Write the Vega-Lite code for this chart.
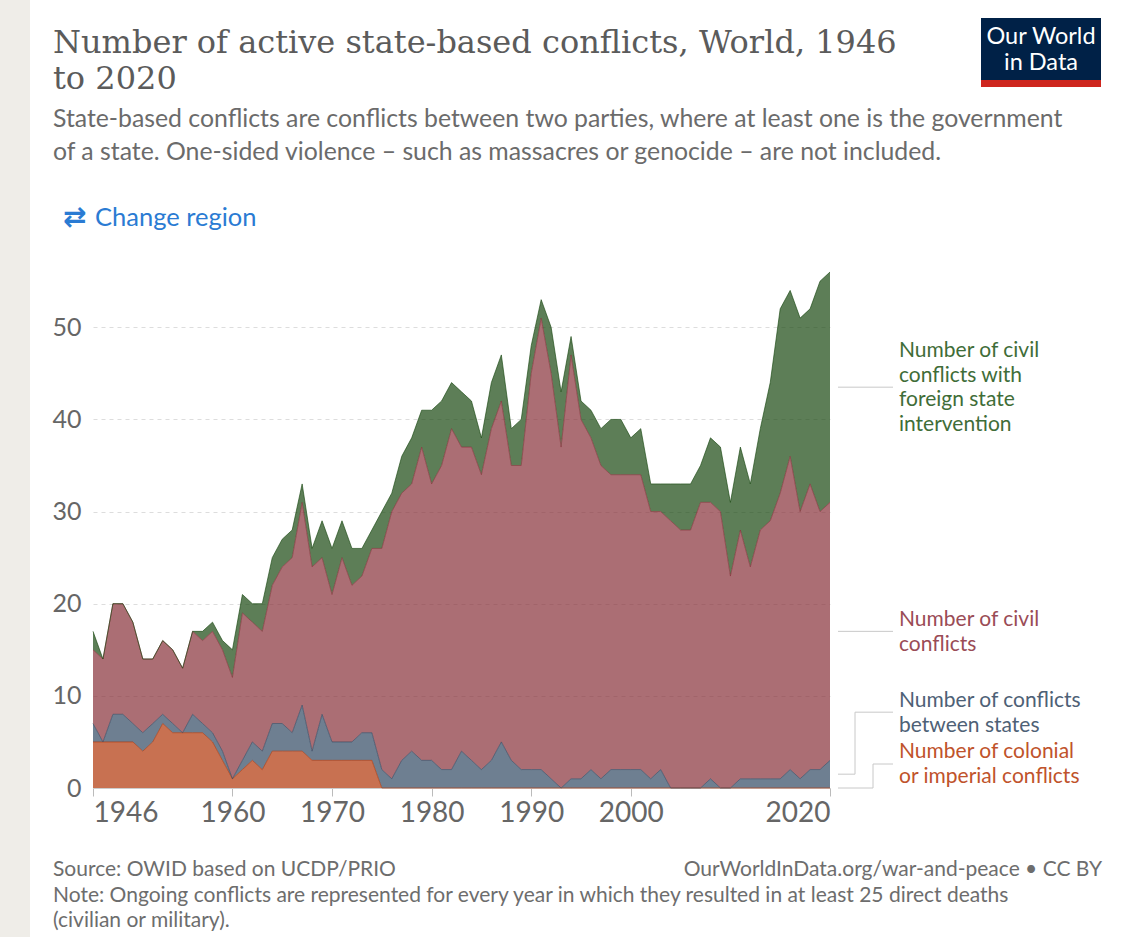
{
  "$schema": "https://vega.github.io/schema/vega-lite/v6.json",
  "width": 737,
  "height": 516,
  "autosize": {"type": "none"},
  "padding": {"left": 93, "top": 272, "right": 299, "bottom": 149},
  "background": "white",
  "config": {"view": {"stroke": null}, "font": "Lato"},
  "title": {
    "text": ["Number of active state-based conflicts, World, 1946", "to 2020"],
    "subtitle": ["State-based conflicts are conflicts between two parties, where at least one is the government", "of a state. One-sided violence – such as massacres or genocide – are not included."],
    "anchor": "start",
    "frame": "group",
    "orient": "top",
    "font": "DejaVu Serif",
    "fontSize": 32,
    "fontWeight": "normal",
    "color": "#5b5b5b",
    "lineHeight": 36,
    "subtitleFont": "Lato",
    "subtitleFontSize": 24.8,
    "subtitleColor": "#6b6b6b",
    "subtitleLineHeight": 33,
    "subtitlePadding": 11,
    "offset": 0,
    "dx": -40,
    "dy": 166
  },
  "datasets": {
    "conflicts": [
      {"year": 1946, "colonial": 5, "interstate": 2, "civil": 8, "foreign": 2},
      {"year": 1947, "colonial": 5, "interstate": 0, "civil": 9, "foreign": 0},
      {"year": 1948, "colonial": 5, "interstate": 3, "civil": 12, "foreign": 0},
      {"year": 1949, "colonial": 5, "interstate": 3, "civil": 12, "foreign": 0},
      {"year": 1950, "colonial": 5, "interstate": 2, "civil": 11, "foreign": 0},
      {"year": 1951, "colonial": 4, "interstate": 2, "civil": 8, "foreign": 0},
      {"year": 1952, "colonial": 5, "interstate": 2, "civil": 7, "foreign": 0},
      {"year": 1953, "colonial": 7, "interstate": 1, "civil": 8, "foreign": 0},
      {"year": 1954, "colonial": 6, "interstate": 1, "civil": 8, "foreign": 0},
      {"year": 1955, "colonial": 6, "interstate": 0, "civil": 7, "foreign": 0},
      {"year": 1956, "colonial": 6, "interstate": 2, "civil": 9, "foreign": 0},
      {"year": 1957, "colonial": 6, "interstate": 1, "civil": 9, "foreign": 1},
      {"year": 1958, "colonial": 5, "interstate": 1, "civil": 11, "foreign": 1},
      {"year": 1959, "colonial": 3, "interstate": 1, "civil": 11, "foreign": 1},
      {"year": 1960, "colonial": 1, "interstate": 0, "civil": 11, "foreign": 3},
      {"year": 1961, "colonial": 2, "interstate": 1, "civil": 16, "foreign": 2},
      {"year": 1962, "colonial": 3, "interstate": 2, "civil": 13, "foreign": 2},
      {"year": 1963, "colonial": 2, "interstate": 2, "civil": 13, "foreign": 3},
      {"year": 1964, "colonial": 4, "interstate": 3, "civil": 15, "foreign": 3},
      {"year": 1965, "colonial": 4, "interstate": 3, "civil": 17, "foreign": 3},
      {"year": 1966, "colonial": 4, "interstate": 2, "civil": 19, "foreign": 3},
      {"year": 1967, "colonial": 4, "interstate": 5, "civil": 22, "foreign": 2},
      {"year": 1968, "colonial": 3, "interstate": 1, "civil": 20, "foreign": 2},
      {"year": 1969, "colonial": 3, "interstate": 5, "civil": 17, "foreign": 4},
      {"year": 1970, "colonial": 3, "interstate": 2, "civil": 16, "foreign": 5},
      {"year": 1971, "colonial": 3, "interstate": 2, "civil": 20, "foreign": 4},
      {"year": 1972, "colonial": 3, "interstate": 2, "civil": 17, "foreign": 4},
      {"year": 1973, "colonial": 3, "interstate": 3, "civil": 17, "foreign": 3},
      {"year": 1974, "colonial": 3, "interstate": 3, "civil": 20, "foreign": 2},
      {"year": 1975, "colonial": 0, "interstate": 2, "civil": 24, "foreign": 4},
      {"year": 1976, "colonial": 0, "interstate": 1, "civil": 29, "foreign": 2},
      {"year": 1977, "colonial": 0, "interstate": 3, "civil": 29, "foreign": 4},
      {"year": 1978, "colonial": 0, "interstate": 4, "civil": 29, "foreign": 5},
      {"year": 1979, "colonial": 0, "interstate": 3, "civil": 34, "foreign": 4},
      {"year": 1980, "colonial": 0, "interstate": 3, "civil": 30, "foreign": 8},
      {"year": 1981, "colonial": 0, "interstate": 2, "civil": 33, "foreign": 7},
      {"year": 1982, "colonial": 0, "interstate": 2, "civil": 37, "foreign": 5},
      {"year": 1983, "colonial": 0, "interstate": 4, "civil": 33, "foreign": 6},
      {"year": 1984, "colonial": 0, "interstate": 3, "civil": 34, "foreign": 5},
      {"year": 1985, "colonial": 0, "interstate": 2, "civil": 32, "foreign": 4},
      {"year": 1986, "colonial": 0, "interstate": 3, "civil": 36, "foreign": 5},
      {"year": 1987, "colonial": 0, "interstate": 5, "civil": 37, "foreign": 5},
      {"year": 1988, "colonial": 0, "interstate": 3, "civil": 32, "foreign": 4},
      {"year": 1989, "colonial": 0, "interstate": 2, "civil": 33, "foreign": 5},
      {"year": 1990, "colonial": 0, "interstate": 2, "civil": 43, "foreign": 3},
      {"year": 1991, "colonial": 0, "interstate": 2, "civil": 49, "foreign": 2},
      {"year": 1992, "colonial": 0, "interstate": 1, "civil": 44, "foreign": 5},
      {"year": 1993, "colonial": 0, "interstate": 0, "civil": 37, "foreign": 6},
      {"year": 1994, "colonial": 0, "interstate": 1, "civil": 46, "foreign": 2},
      {"year": 1995, "colonial": 0, "interstate": 1, "civil": 39, "foreign": 2},
      {"year": 1996, "colonial": 0, "interstate": 2, "civil": 36, "foreign": 3},
      {"year": 1997, "colonial": 0, "interstate": 1, "civil": 34, "foreign": 4},
      {"year": 1998, "colonial": 0, "interstate": 2, "civil": 32, "foreign": 6},
      {"year": 1999, "colonial": 0, "interstate": 2, "civil": 32, "foreign": 6},
      {"year": 2000, "colonial": 0, "interstate": 2, "civil": 32, "foreign": 4},
      {"year": 2001, "colonial": 0, "interstate": 2, "civil": 32, "foreign": 5},
      {"year": 2002, "colonial": 0, "interstate": 1, "civil": 29, "foreign": 3},
      {"year": 2003, "colonial": 0, "interstate": 2, "civil": 28, "foreign": 3},
      {"year": 2004, "colonial": 0, "interstate": 0, "civil": 29, "foreign": 4},
      {"year": 2005, "colonial": 0, "interstate": 0, "civil": 28, "foreign": 5},
      {"year": 2006, "colonial": 0, "interstate": 0, "civil": 28, "foreign": 5},
      {"year": 2007, "colonial": 0, "interstate": 0, "civil": 31, "foreign": 4},
      {"year": 2008, "colonial": 0, "interstate": 1, "civil": 30, "foreign": 7},
      {"year": 2009, "colonial": 0, "interstate": 0, "civil": 30, "foreign": 7},
      {"year": 2010, "colonial": 0, "interstate": 0, "civil": 23, "foreign": 8},
      {"year": 2011, "colonial": 0, "interstate": 1, "civil": 27, "foreign": 9},
      {"year": 2012, "colonial": 0, "interstate": 1, "civil": 23, "foreign": 9},
      {"year": 2013, "colonial": 0, "interstate": 1, "civil": 27, "foreign": 11},
      {"year": 2014, "colonial": 0, "interstate": 1, "civil": 28, "foreign": 15},
      {"year": 2015, "colonial": 0, "interstate": 1, "civil": 31, "foreign": 20},
      {"year": 2016, "colonial": 0, "interstate": 2, "civil": 34, "foreign": 18},
      {"year": 2017, "colonial": 0, "interstate": 1, "civil": 29, "foreign": 21},
      {"year": 2018, "colonial": 0, "interstate": 2, "civil": 31, "foreign": 19},
      {"year": 2019, "colonial": 0, "interstate": 2, "civil": 28, "foreign": 25},
      {"year": 2020, "colonial": 0, "interstate": 3, "civil": 28, "foreign": 25}
    ]
  },
  "layer": [
    {
      "data": {"values": [{}]},
      "mark": {"type": "rect", "x": -93, "x2": -63, "y": -272, "y2": 665, "color": "#efede8"},
      "encoding": {}
    },
    {
      "data": {"name": "conflicts"},
      "transform": [
        {"fold": ["colonial", "interstate", "civil", "foreign"], "as": ["series", "count"]},
        {"calculate": "indexof(['colonial','interstate','civil','foreign'], datum.series)", "as": "order"}
      ],
      "encoding": {
        "x": {
          "field": "year", "type": "quantitative", "title": null,
          "scale": {"domain": [1946, 2020], "nice": false, "zero": false},
          "axis": {
            "values": [1946, 1960, 1970, 1980, 1990, 2000, 2020],
            "format": "d", "labelFlush": true, "grid": false,
            "domain": true, "domainColor": "#cccccc",
            "ticks": true, "tickColor": "#bbbbbb", "tickSize": 8,
            "labelFont": "Lato", "labelFontSize": 28, "labelColor": "#666666", "labelPadding": 3
          }
        },
        "y": {
          "field": "count", "type": "quantitative", "stack": "zero", "title": null,
          "scale": {"domain": [0, 56], "nice": false},
          "axis": {
            "values": [0, 10, 20, 30, 40, 50],
            "grid": true, "gridDash": [4, 4], "gridColor": "#dddddd",
            "domain": false, "ticks": false,
            "labelFont": "Lato", "labelFontSize": 25, "labelColor": "#666666", "labelPadding": 12
          }
        },
        "color": {
          "field": "series", "type": "nominal", "legend": null,
          "scale": {"domain": ["colonial", "interstate", "civil", "foreign"], "range": ["#B13507", "#314862", "#883039", "#18470F"]}
        },
        "order": {"field": "order", "type": "quantitative"}
      },
      "layer": [
        {"mark": {"type": "area", "fillOpacity": 0.7, "interpolate": "linear"}},
        {"mark": {"type": "line", "strokeWidth": 0.8, "opacity": 0.8, "interpolate": "linear"}}
      ]
    },
    {
      "data": {"name": "conflicts"},
      "transform": [
        {"filter": "datum.year == 2020"},
        {"fold": ["colonial", "interstate", "civil", "foreign"], "as": ["series", "count"]},
        {"calculate": "indexof(['colonial','interstate','civil','foreign'], datum.series)", "as": "order"},
        {"stack": "count", "groupby": ["year"], "sort": [{"field": "order", "order": "ascending"}], "as": ["y0", "y1"]},
        {"calculate": "(datum.y0 + datum.y1) / 2", "as": "mid"}
      ],
      "encoding": {
        "x": {"field": "year", "type": "quantitative", "title": null},
        "y": {"field": "mid", "type": "quantitative", "title": null}
      },
      "layer": [
        {
          "transform": [{"filter": "datum.series == 'foreign'"}],
          "mark": {"type": "rule", "color": "#c8c8c8", "strokeWidth": 1, "xOffset": 8, "x2Offset": 63},
          "encoding": {"x2": {"field": "year"}}
        },
        {
          "transform": [{"filter": "datum.series == 'foreign'"}],
          "mark": {"type": "text", "align": "left", "baseline": "middle", "dx": 69, "dy": -36, "font": "Lato", "fontSize": 21, "lineHeight": 24.5, "color": "#3f6d38",
            "text": ["Number of civil", "conflicts with", "foreign state", "intervention"]}
        },
        {
          "transform": [{"filter": "datum.series == 'civil'"}],
          "mark": {"type": "rule", "color": "#c8c8c8", "strokeWidth": 1, "xOffset": 8, "x2Offset": 63},
          "encoding": {"x2": {"field": "year"}}
        },
        {
          "transform": [{"filter": "datum.series == 'civil'"}],
          "mark": {"type": "text", "align": "left", "baseline": "middle", "dx": 69, "dy": -11, "font": "Lato", "fontSize": 21, "lineHeight": 24.5, "color": "#9a4c56",
            "text": ["Number of civil", "conflicts"]}
        },
        {
          "transform": [{"filter": "datum.series == 'interstate'"}],
          "mark": {"type": "rule", "color": "#c8c8c8", "strokeWidth": 1, "xOffset": 8, "x2Offset": 25},
          "encoding": {"x2": {"field": "year"}}
        },
        {
          "transform": [{"filter": "datum.series == 'interstate'"}],
          "mark": {"type": "rule", "color": "#c8c8c8", "strokeWidth": 1, "xOffset": 25, "y2Offset": -62},
          "encoding": {"y2": {"field": "mid"}}
        },
        {
          "transform": [{"filter": "datum.series == 'interstate'"}],
          "mark": {"type": "rule", "color": "#c8c8c8", "strokeWidth": 1, "xOffset": 25, "x2Offset": 63, "yOffset": -62},
          "encoding": {"x2": {"field": "year"}}
        },
        {
          "transform": [{"filter": "datum.series == 'interstate'"}],
          "mark": {"type": "text", "align": "left", "baseline": "middle", "dx": 69, "dy": -73, "font": "Lato", "fontSize": 21, "lineHeight": 24.5, "color": "#4e6176",
            "text": ["Number of conflicts", "between states"]}
        },
        {
          "transform": [{"filter": "datum.series == 'colonial'"}],
          "mark": {"type": "rule", "color": "#c8c8c8", "strokeWidth": 1, "xOffset": 8, "x2Offset": 43},
          "encoding": {"x2": {"field": "year"}}
        },
        {
          "transform": [{"filter": "datum.series == 'colonial'"}],
          "mark": {"type": "rule", "color": "#c8c8c8", "strokeWidth": 1, "xOffset": 43, "y2Offset": -24},
          "encoding": {"y2": {"field": "mid"}}
        },
        {
          "transform": [{"filter": "datum.series == 'colonial'"}],
          "mark": {"type": "rule", "color": "#c8c8c8", "strokeWidth": 1, "xOffset": 43, "x2Offset": 63, "yOffset": -24},
          "encoding": {"x2": {"field": "year"}}
        },
        {
          "transform": [{"filter": "datum.series == 'colonial'"}],
          "mark": {"type": "text", "align": "left", "baseline": "middle", "dx": 69, "dy": -36, "font": "Lato", "fontSize": 21, "lineHeight": 24.5, "color": "#c0532b",
            "text": ["Number of colonial", "or imperial conflicts"]}
        }
      ]
    },
    {
      "data": {"values": [{}]},
      "layer": [
        {"mark": {"type": "rect", "x": 888, "x2": 1008, "y": -254, "y2": -185, "color": "#002147"}, "encoding": {}},
        {"mark": {"type": "rect", "x": 888, "x2": 1008, "y": -192, "y2": -185, "color": "#ce261e"}, "encoding": {}},
        {"mark": {"type": "text", "x": 948, "y": -235, "text": "Our World", "color": "white", "font": "Lato", "fontSize": 23.5, "align": "center", "baseline": "middle"}, "encoding": {}},
        {"mark": {"type": "text", "x": 948, "y": -209, "text": "in Data", "color": "white", "font": "Lato", "fontSize": 23.5, "align": "center", "baseline": "middle"}, "encoding": {}},
        {"mark": {"type": "text", "x": -30, "y": -54, "text": "⇄", "color": "#2a7bd3", "font": "DejaVu Sans", "fontSize": 28, "fontWeight": "bold", "align": "left", "baseline": "middle"}, "encoding": {}},
        {"mark": {"type": "text", "x": 2, "y": -54, "text": "Change region", "color": "#2a7bd3", "font": "Lato", "fontSize": 25.5, "align": "left", "baseline": "middle"}, "encoding": {}},
        {"mark": {"type": "text", "x": -40, "y": 598, "text": "Source: OWID based on UCDP/PRIO", "color": "#6d6d6d", "font": "Lato", "fontSize": 21, "align": "left", "baseline": "middle"}, "encoding": {}},
        {"mark": {"type": "text", "x": 1009, "y": 598, "text": "OurWorldInData.org/war-and-peace • CC BY", "color": "#6d6d6d", "font": "Lato", "fontSize": 21, "align": "right", "baseline": "middle"}, "encoding": {}},
        {"mark": {"type": "text", "x": -40, "y": 624, "text": "Note: Ongoing conflicts are represented for every year in which they resulted in at least 25 direct deaths", "color": "#6d6d6d", "font": "Lato", "fontSize": 21, "align": "left", "baseline": "middle"}, "encoding": {}},
        {"mark": {"type": "text", "x": -40, "y": 649, "text": "(civilian or military).", "color": "#6d6d6d", "font": "Lato", "fontSize": 21, "align": "left", "baseline": "middle"}, "encoding": {}}
      ]
    }
  ]
}
